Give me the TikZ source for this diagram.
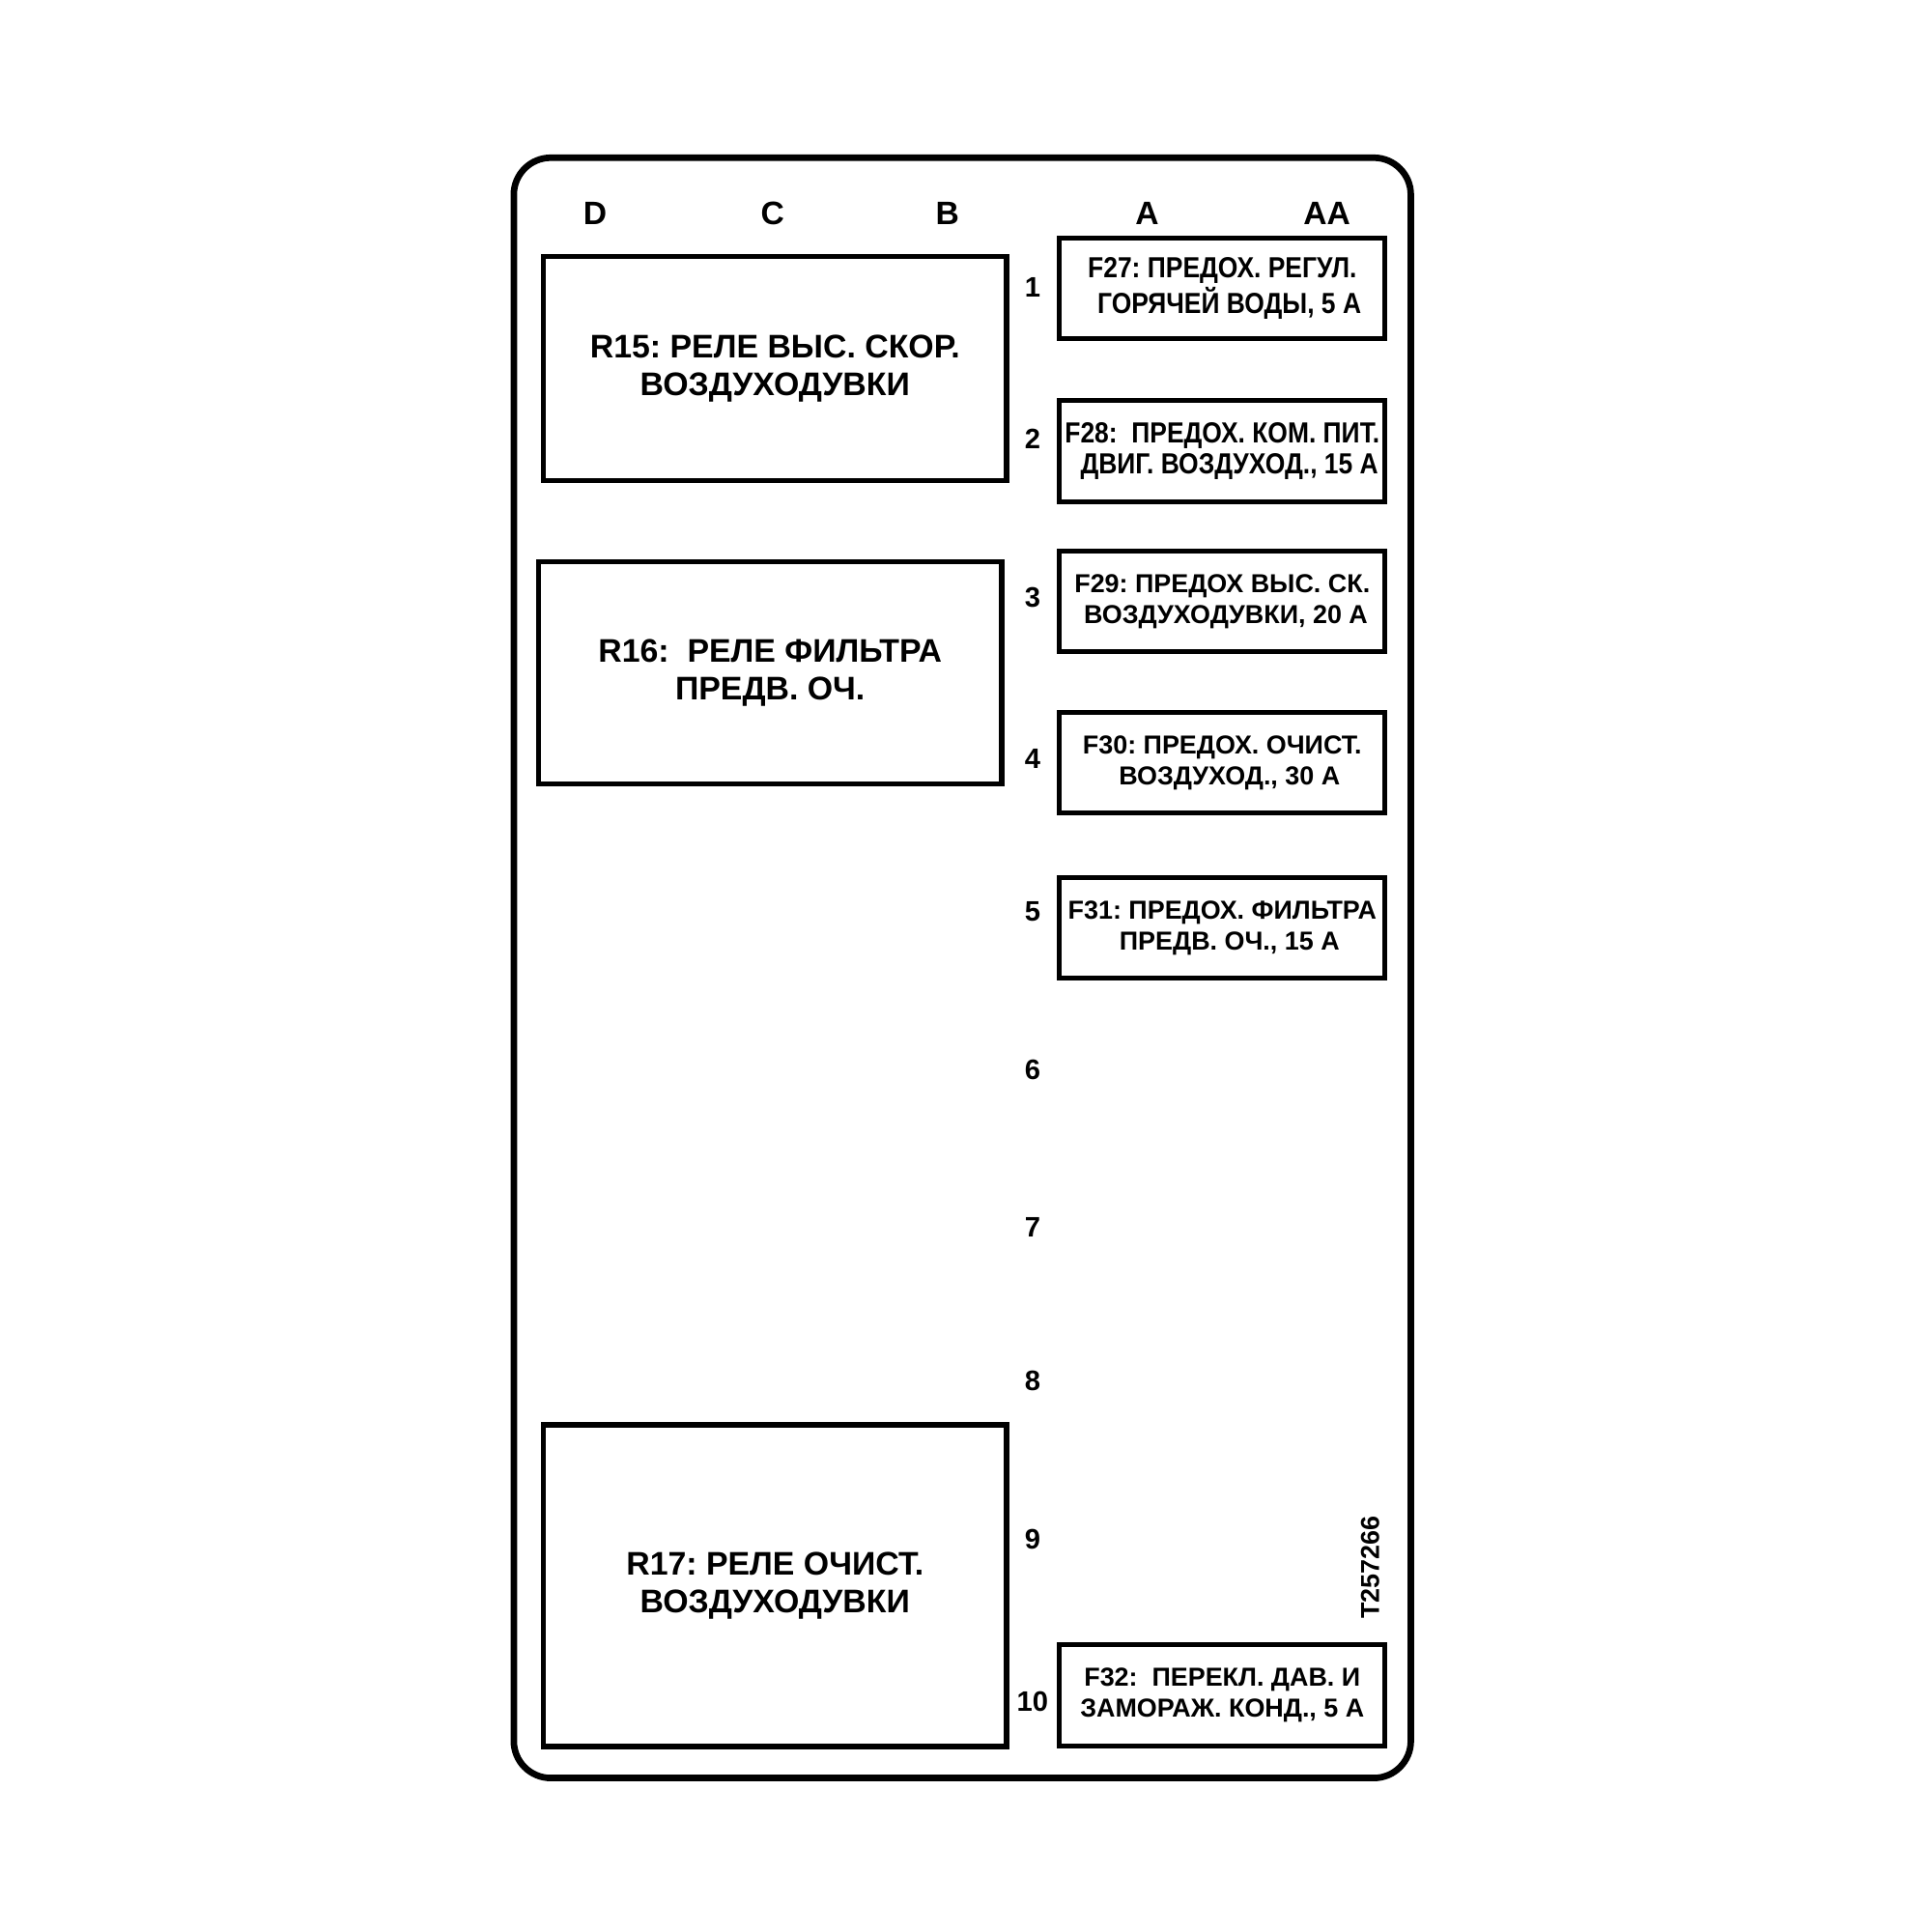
\documentclass[tikz,border=0pt]{standalone}
\usepackage{fontspec}
\setmainfont{Liberation Sans}
\newfontfamily\narrowfont{Liberation Sans}[FakeStretch=0.88]
\frenchspacing
\begin{document}
\begin{tikzpicture}[x=0.1mm, y=-0.1mm,
  relaybox/.style={draw, line width=1.2pt, minimum width=376*0.1mm, align=center, font=\fontsize{7.55}{8.8}\selectfont\bfseries},
  fusebox/.style={draw, line width=1.1pt, minimum width=264*0.1mm, minimum height=82*0.1mm, inner sep=0pt, align=center, font=\fontsize{6}{7.1}\selectfont\bfseries},
  narrowbox/.style={fusebox, font=\narrowfont\fontsize{6.7}{7.1}\selectfont\bfseries},
  collabel/.style={font=\fontsize{7.5}{9}\selectfont\bfseries},
  rowlabel/.style={font=\fontsize{6.5}{8}\selectfont\bfseries}]
\useasboundingbox (0,0) rectangle (1568,1568);
\draw[line width=1.5pt, rounded corners=3mm] (417,128) rectangle (1145,1443);
\node[collabel] (colD) at (483,173){D};
\node[collabel] (colC) at (627,173){C};
\node[collabel] (colB) at (769,173){B};
\node[collabel] (colA) at (931,173){A};
\node[collabel] (colAA) at (1077,173){AA};
\node[rowlabel] (row1) at (838,233){1};
\node[rowlabel] (row2) at (838,356){2};
\node[rowlabel] (row3) at (838,485){3};
\node[rowlabel] (row4) at (838,616){4};
\node[rowlabel] (row5) at (838,740){5};
\node[rowlabel] (row6) at (838,868){6};
\node[rowlabel] (row7) at (838,996){7};
\node[rowlabel] (row8) at (838,1121){8};
\node[rowlabel] (row9) at (838,1249){9};
\node[rowlabel] (row10) at (838,1381){10};
\node[relaybox, minimum height=182*0.1mm] (r15) at (629,299){R15: РЕЛЕ ВЫС. СКОР.\\ВОЗДУХОДУВКИ};
\node[relaybox, minimum height=180*0.1mm] (r16) at (625,546){R16:\ \ РЕЛЕ ФИЛЬТРА\\ПРЕДВ. ОЧ.};
\node[relaybox, minimum height=261*0.1mm] (r17) at (629,1287){R17: РЕЛЕ ОЧИСТ.\\ВОЗДУХОДУВКИ};
\node[narrowbox] (f27) at (992,234){F27: ПРЕДОХ. РЕГУЛ.\\\ \ ГОРЯЧЕЙ ВОДЫ, 5 А};
\node[narrowbox] (f28) at (992,366){F28:\ \ ПРЕДОХ. КОМ. ПИТ.\\\ \ ДВИГ. ВОЗДУХОД., 15 А};
\node[fusebox] (f29) at (992,488){F29: ПРЕДОХ ВЫС. СК.\\\ ВОЗДУХОДУВКИ, 20 А};
\node[fusebox] (f30) at (992,619){F30: ПРЕДОХ. ОЧИСТ.\\\ \ ВОЗДУХОД., 30 А};
\node[fusebox] (f31) at (992,753){F31: ПРЕДОХ. ФИЛЬТРА\\\ \ ПРЕДВ. ОЧ., 15 А};
\node[fusebox] (f32) at (992,1376){F32:\ \ ПЕРЕКЛ. ДАВ. И\\ЗАМОРАЖ. КОНД., 5 А};
\node[rotate=90, font=\fontsize{6}{7}\selectfont\bfseries] (tag) at (1112,1272){T257266};
\end{tikzpicture}
\end{document}
